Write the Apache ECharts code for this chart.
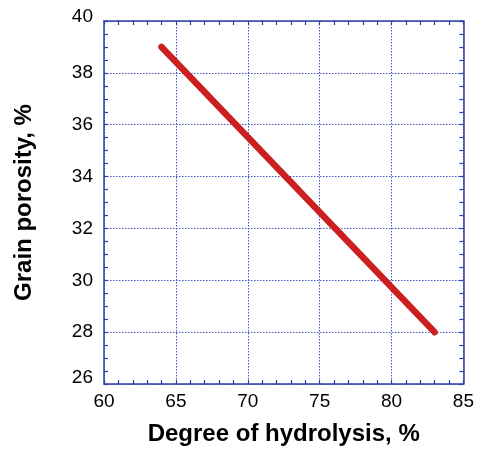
<!DOCTYPE html>
<html>
<head>
<meta charset="utf-8">
<script src="https://cdn.jsdelivr.net/npm/echarts@6/dist/echarts.min.js"></script>
<style>
  html, body { margin: 0; padding: 0; background: #fff; }
  #chart { width: 477px; height: 451px; }
</style>
</head>
<body>
<div id="chart"></div>
<script>
// Degree of hydrolysis (%) vs grain porosity (%)
const hydrolysis = [64, 83];
const porosity = [39, 28];

const xTicks = [60, 65, 70, 75, 80, 85];
const yTicks = [26, 28, 30, 32, 34, 36, 38, 40];

const axisBlue = '#2f3fa8';
const gridBlue = '#4455cc';
const font = 'Liberation Sans, Arial, sans-serif';

const chart = echarts.init(document.getElementById('chart'));

const frameAxis = (extra) => Object.assign({
  axisLine: { show: true, lineStyle: { color: axisBlue, width: 1.5 } },
  axisTick: { show: true, inside: true, length: 4, lineStyle: { color: axisBlue, width: 1.2 } },
  minorTick: { show: true, length: 4, lineStyle: { color: axisBlue, width: 1.2 } },
  axisLabel: { show: false },
  splitLine: { show: false }
}, extra);

const yMin = yTicks[0];
const yMax = yTicks[yTicks.length - 1];

chart.setOption({
  animation: false,
  backgroundColor: '#fff',
  grid: { left: 104, right: 10, top: 21, bottom: 66 },
  xAxis: [
    frameAxis({
      type: 'value', position: 'bottom',
      min: xTicks[0], max: xTicks[xTicks.length - 1], interval: 5,
      minorTick: { show: true, splitNumber: 5, length: 4, lineStyle: { color: axisBlue, width: 1.2 } },
      axisLabel: { show: true, color: '#000', fontSize: 19, fontFamily: font, margin: 8 },
      splitLine: { show: true, lineStyle: { color: gridBlue, type: [1.5, 1.5], width: 1 } },
      name: 'Degree of hydrolysis, %',
      nameLocation: 'middle', nameGap: 38,
      nameTextStyle: { color: '#000', fontSize: 24, fontWeight: 'bold', fontFamily: font }
    }),
    frameAxis({
      type: 'value', position: 'top',
      min: xTicks[0], max: xTicks[xTicks.length - 1], interval: 5,
      minorTick: { show: true, splitNumber: 5, length: 4, lineStyle: { color: axisBlue, width: 1.2 } }
    })
  ],
  yAxis: [
    frameAxis({
      type: 'value', position: 'left',
      min: yMin, max: yMax, interval: 2,
      minorTick: { show: true, splitNumber: 4, length: 4, lineStyle: { color: axisBlue, width: 1.2 } },
      axisLabel: {
        show: true, color: '#000', fontSize: 19, fontFamily: font, margin: 11,
        // end labels sit a little above their ticks
        formatter: (v) => v === yMin ? '{low|' + v + '}' : v === yMax ? '{high|' + v + '}' : String(v),
        rich: {
          low: { fontSize: 19, fontFamily: font, color: '#000', padding: [0, 0, 12, 0] },
          high: { fontSize: 19, fontFamily: font, color: '#000', padding: [0, 0, 8, 0] }
        }
      },
      splitLine: { show: true, lineStyle: { color: gridBlue, type: [1.5, 1.5], width: 1 } },
      name: 'Grain porosity, %',
      nameLocation: 'middle', nameGap: 68, nameRotate: 90,
      nameTextStyle: { color: '#000', fontSize: 24, fontWeight: 'bold', fontFamily: font }
    }),
    frameAxis({
      type: 'value', position: 'right',
      min: yMin, max: yMax, interval: 2,
      minorTick: { show: true, splitNumber: 4, length: 4, lineStyle: { color: axisBlue, width: 1.2 } }
    })
  ],
  series: [{
    type: 'line',
    xAxisIndex: 0, yAxisIndex: 0,
    data: hydrolysis.map((x, i) => [x, porosity[i]]),
    showSymbol: false,
    lineStyle: { color: '#cc1f1f', width: 6.5, cap: 'round' }
  }]
});
</script>
</body>
</html>
